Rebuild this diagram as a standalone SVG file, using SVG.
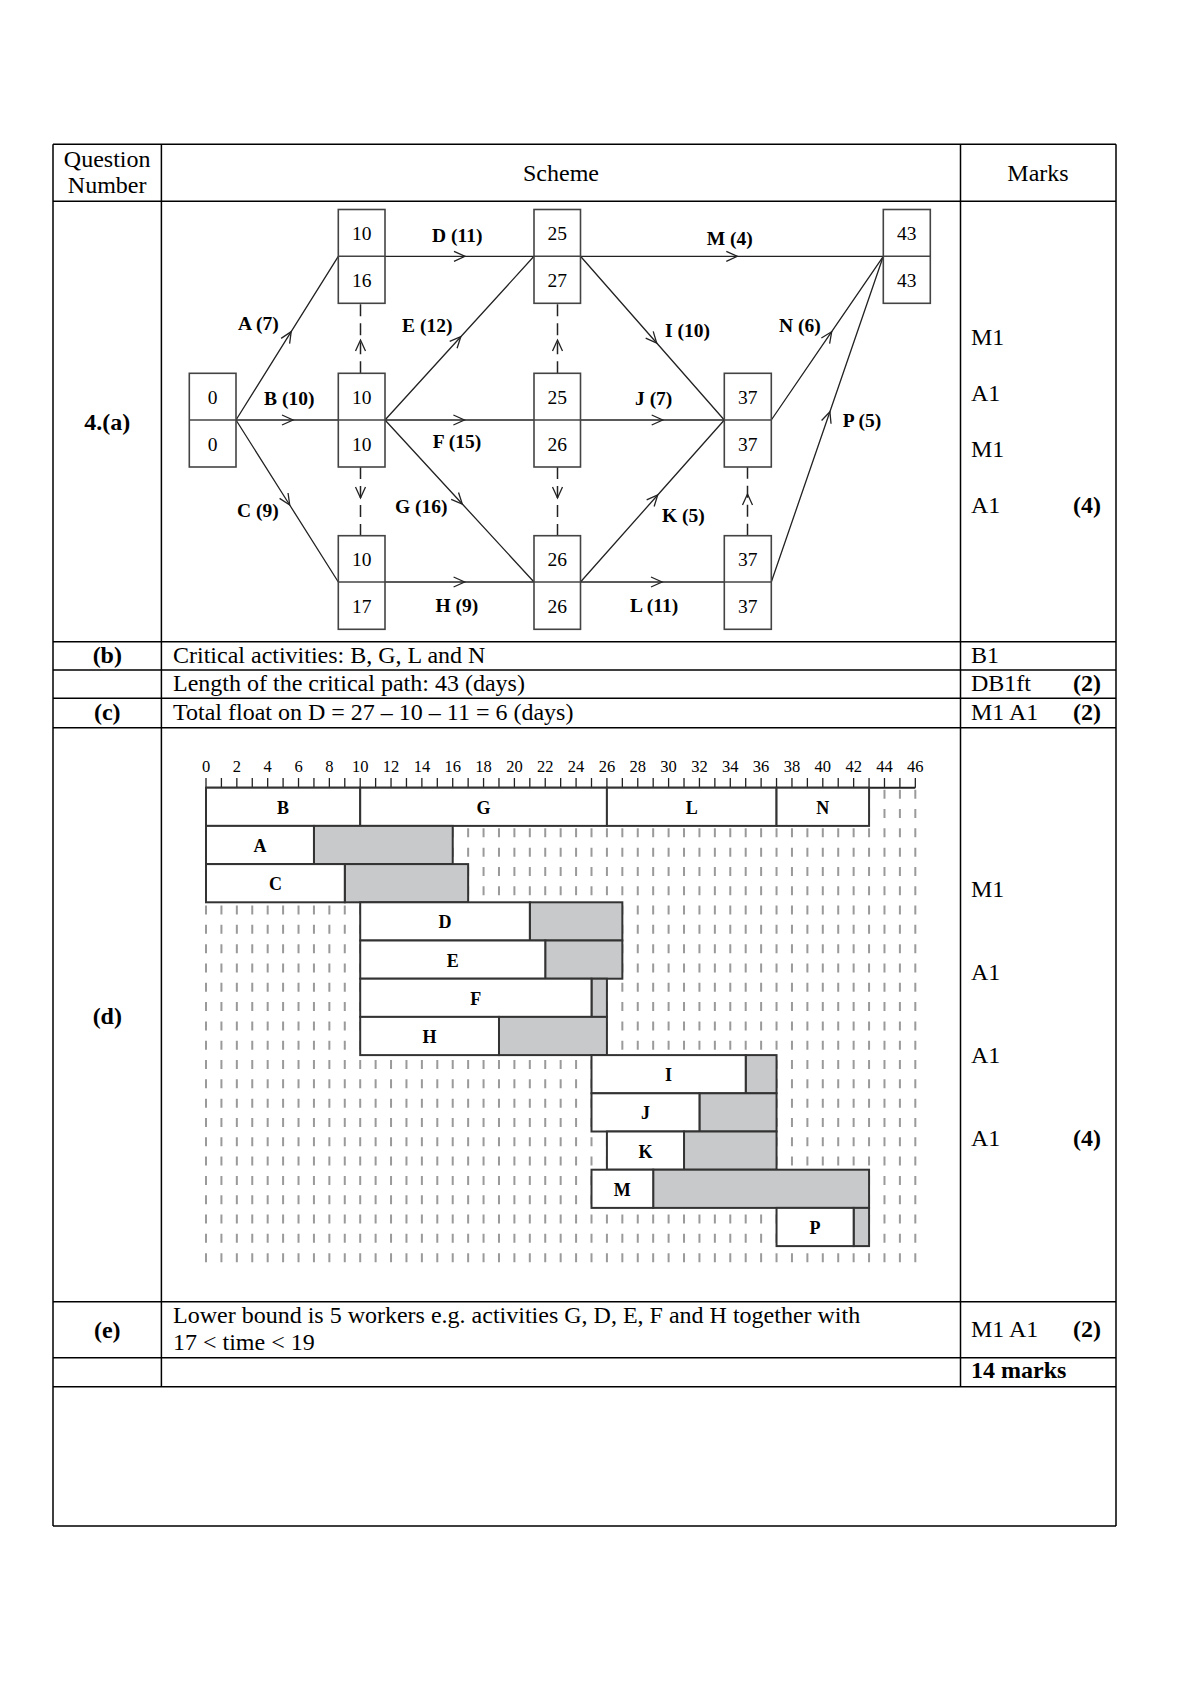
<svg xmlns="http://www.w3.org/2000/svg" width="1190" height="1683" viewBox="0 0 1190 1683">
<style>
text{font-family:"Liberation Serif","Times New Roman",serif;fill:#000}
.t{font-size:24px}
.tb{font-size:24px;font-weight:bold}
.c{text-anchor:middle}
.e{text-anchor:end}
.tl{stroke:#000;stroke-width:1.5;fill:none}
.box{fill:#fff;stroke:#444;stroke-width:1.6}
.num{font-size:19.5px;text-anchor:middle}
.lab{font-size:19.5px;font-weight:bold}
.edge{fill:none;stroke:#222;stroke-width:1.3;marker-mid:url(#arr)}
.dum{fill:none;stroke:#222;stroke-width:1.5;stroke-dasharray:12 7;marker-mid:url(#arr)}
.grid{stroke:#9a9a9a;stroke-width:2;stroke-dasharray:9 10.31}
.bw{fill:#fff;stroke:#333;stroke-width:2}
.bg{fill:#c8c9cb;stroke:#333;stroke-width:2}
.gl{font-size:18px;font-weight:bold;text-anchor:middle}
.ax{font-size:16.5px;text-anchor:middle}
</style>
<defs>
<marker id="arr" markerUnits="userSpaceOnUse" orient="auto" overflow="visible" markerWidth="12" markerHeight="12">
<path d="M-11,-5 L0,0 L-11,5" fill="none" stroke="#222" stroke-width="1.3"/>
</marker>
</defs>

<g id="table">
<path class="tl" d="M53,144.3H1116M53,201.3H1116M53,641.7H1116M53,670H1116M53,698.3H1116M53,727.7H1116M53,1301.7H1116M53,1357.7H1116M53,1386.7H1116M53,1526H1116"/>
<path class="tl" d="M53,144.3V1526M1116,144.3V1526M161.4,144.3V1386.7M960.5,144.3V1386.7"/>
</g>

<g id="header">
<text class="t c" x="107.2" y="167">Question</text>
<text class="t c" x="107.2" y="193">Number</text>
<text class="t c" x="561" y="181">Scheme</text>
<text class="t c" x="1038" y="181">Marks</text>
</g>

<g id="part-a-labels">
<text class="tb c" x="107.3" y="430">4.(a)</text>
<text class="t" x="971" y="345">M1</text>
<text class="t" x="971" y="401">A1</text>
<text class="t" x="971" y="457">M1</text>
<text class="t" x="971" y="512.5">A1</text>
<text class="tb e" x="1101" y="512.5">(4)</text>
</g>

<g id="connectors">
<path class="edge" d="M236,420 L291.2,331.7 L338.3,256.3"/>
<path class="edge" d="M236,420 L293,420 L338.3,420"/>
<path class="edge" d="M236,420 L289.7,505 L338.3,582"/>
<path class="edge" d="M385,256.3 L465,256.3 L534,256.3"/>
<path class="edge" d="M385,420 L460.8,336.7 L534,256.3"/>
<path class="edge" d="M385,420 L464.4,420 L534,420"/>
<path class="edge" d="M385,420 L462.3,504 L534,582"/>
<path class="edge" d="M385,582 L464.6,582 L534,582"/>
<path class="edge" d="M580.5,256.3 L656.7,343 L724.3,420"/>
<path class="edge" d="M580.5,420 L662.7,420 L724.3,420"/>
<path class="edge" d="M580.5,582 L657.7,495 L724.3,420"/>
<path class="edge" d="M580.5,582 L662,582 L724.3,582"/>
<path class="edge" d="M580.5,256.3 L737.3,256.3 L883.3,256.3"/>
<path class="edge" d="M771.3,420 L831.7,331.7 L883.3,256.3"/>
<path class="edge" d="M771.3,582 L829.9,411.7 L883.3,256.3"/>
<path class="dum" d="M360.5,373.3 L360.5,340 L360.5,303.3"/>
<path class="dum" d="M360.5,467 L360.5,498 L360.5,535.7"/>
<path class="dum" d="M557.5,373.3 L557.5,340 L557.5,303.3"/>
<path class="dum" d="M557.5,467 L557.5,498 L557.5,535.7"/>
<path class="dum" d="M747.5,535.7 L747.5,494 L747.5,467"/>
<text class="lab" x="238" y="330">A (7)</text>
<text class="lab" x="264" y="405">B (10)</text>
<text class="lab" x="237" y="516.7">C (9)</text>
<text class="lab" x="432" y="242">D (11)</text>
<text class="lab" x="402" y="331.7">E (12)</text>
<text class="lab" x="432.7" y="448">F (15)</text>
<text class="lab" x="395" y="512.7">G (16)</text>
<text class="lab" x="435.5" y="611.7">H (9)</text>
<text class="lab" x="665" y="336.7">I (10)</text>
<text class="lab" x="635" y="405">J (7)</text>
<text class="lab" x="662" y="521.7">K (5)</text>
<text class="lab" x="630" y="611.7">L (11)</text>
<text class="lab" x="706.7" y="245">M (4)</text>
<text class="lab" x="779" y="331.7">N (6)</text>
<text class="lab" x="842.7" y="427.3">P (5)</text>
</g>

<g id="node-0"><rect class="box" x="189.3" y="373.3" width="46.7" height="93.7"/><line class="box" x1="189.3" y1="420" x2="236" y2="420"/><text class="num" x="212.7" y="403.5">0</text><text class="num" x="212.7" y="450.5">0</text></g>
<g id="node-1"><rect class="box" x="338.3" y="209.5" width="46.7" height="93.8"/><line class="box" x1="338.3" y1="256.3" x2="385" y2="256.3"/><text class="num" x="361.7" y="240">10</text><text class="num" x="361.7" y="286.8">16</text></g>
<g id="node-2"><rect class="box" x="338.3" y="373.3" width="46.7" height="93.7"/><line class="box" x1="338.3" y1="420" x2="385" y2="420"/><text class="num" x="361.7" y="403.5">10</text><text class="num" x="361.7" y="450.5">10</text></g>
<g id="node-3"><rect class="box" x="338.3" y="535.7" width="46.7" height="93.6"/><line class="box" x1="338.3" y1="582" x2="385" y2="582"/><text class="num" x="361.7" y="566">10</text><text class="num" x="361.7" y="613">17</text></g>
<g id="node-4"><rect class="box" x="534" y="209.5" width="46.5" height="93.8"/><line class="box" x1="534" y1="256.3" x2="580.5" y2="256.3"/><text class="num" x="557.3" y="240">25</text><text class="num" x="557.3" y="286.8">27</text></g>
<g id="node-5"><rect class="box" x="534" y="373.3" width="46.5" height="93.7"/><line class="box" x1="534" y1="420" x2="580.5" y2="420"/><text class="num" x="557.3" y="403.5">25</text><text class="num" x="557.3" y="450.5">26</text></g>
<g id="node-6"><rect class="box" x="534" y="535.7" width="46.5" height="93.6"/><line class="box" x1="534" y1="582" x2="580.5" y2="582"/><text class="num" x="557.3" y="566">26</text><text class="num" x="557.3" y="613">26</text></g>
<g id="node-7"><rect class="box" x="724.3" y="373.3" width="47" height="93.7"/><line class="box" x1="724.3" y1="420" x2="771.3" y2="420"/><text class="num" x="747.8" y="403.5">37</text><text class="num" x="747.8" y="450.5">37</text></g>
<g id="node-8"><rect class="box" x="724.3" y="535.7" width="47" height="93.6"/><line class="box" x1="724.3" y1="582" x2="771.3" y2="582"/><text class="num" x="747.8" y="566">37</text><text class="num" x="747.8" y="613">37</text></g>
<g id="node-9"><rect class="box" x="883.3" y="209.5" width="47" height="93.8"/><line class="box" x1="883.3" y1="256.3" x2="930.3" y2="256.3"/><text class="num" x="906.8" y="240">43</text><text class="num" x="906.8" y="286.8">43</text></g>

<g id="parts-bc">
<text class="tb c" x="107.3" y="663">(b)</text>
<text class="t" x="173" y="663">Critical activities: B, G, L and N</text>
<text class="t" x="971" y="663">B1</text>
<text class="t" x="173" y="691.3">Length of the critical path: 43 (days)</text>
<text class="t" x="971" y="691.3">DB1ft</text>
<text class="tb e" x="1101" y="691.3">(2)</text>
<text class="tb c" x="107.3" y="720.3">(c)</text>
<text class="t" x="173" y="720.3">Total float on D = 27 – 10 – 11 = 6 (days)</text>
<text class="t" x="971" y="720.3">M1 A1</text>
<text class="tb e" x="1101" y="720.3">(2)</text>
</g>

<g id="part-d">
<text class="tb c" x="107.3" y="1024">(d)</text>
<text class="t" x="971" y="897">M1</text>
<text class="t" x="971" y="980">A1</text>
<text class="t" x="971" y="1063">A1</text>
<text class="t" x="971" y="1146">A1</text>
<text class="tb e" x="1101" y="1146">(4)</text>
</g>

<g id="gantt-grid">
<path class="grid" d="M206,789.7V1264M221.42,789.7V1264M236.84,789.7V1264M252.26,789.7V1264M267.68,789.7V1264M283.1,789.7V1264M298.52,789.7V1264M313.94,789.7V1264M329.36,789.7V1264M344.78,789.7V1264M360.2,789.7V1264M375.62,789.7V1264M391.04,789.7V1264M406.46,789.7V1264M421.88,789.7V1264M437.3,789.7V1264M452.72,789.7V1264M468.14,789.7V1264M483.56,789.7V1264M498.98,789.7V1264M514.4,789.7V1264M529.82,789.7V1264M545.24,789.7V1264M560.66,789.7V1264M576.08,789.7V1264M591.5,789.7V1264M606.92,789.7V1264M622.34,789.7V1264M637.76,789.7V1264M653.18,789.7V1264M668.6,789.7V1264M684.02,789.7V1264M699.44,789.7V1264M714.86,789.7V1264M730.28,789.7V1264M745.7,789.7V1264M761.12,789.7V1264M776.54,789.7V1264M791.96,789.7V1264M807.38,789.7V1264M822.8,789.7V1264M838.22,789.7V1264M853.64,789.7V1264M869.06,789.7V1264M884.48,789.7V1264M899.9,789.7V1264M915.32,789.7V1264"/>
</g>

<g id="gantt-axis">
<path d="M206,787.7H915.32" stroke="#222" stroke-width="2"/>
<path d="M206,778V787.7M221.42,778V787.7M236.84,778V787.7M252.26,778V787.7M267.68,778V787.7M283.1,778V787.7M298.52,778V787.7M313.94,778V787.7M329.36,778V787.7M344.78,778V787.7M360.2,778V787.7M375.62,778V787.7M391.04,778V787.7M406.46,778V787.7M421.88,778V787.7M437.3,778V787.7M452.72,778V787.7M468.14,778V787.7M483.56,778V787.7M498.98,778V787.7M514.4,778V787.7M529.82,778V787.7M545.24,778V787.7M560.66,778V787.7M576.08,778V787.7M591.5,778V787.7M606.92,778V787.7M622.34,778V787.7M637.76,778V787.7M653.18,778V787.7M668.6,778V787.7M684.02,778V787.7M699.44,778V787.7M714.86,778V787.7M730.28,778V787.7M745.7,778V787.7M761.12,778V787.7M776.54,778V787.7M791.96,778V787.7M807.38,778V787.7M822.8,778V787.7M838.22,778V787.7M853.64,778V787.7M869.06,778V787.7M884.48,778V787.7M899.9,778V787.7M915.32,778V787.7" stroke="#222" stroke-width="1.3"/>
<text class="ax" x="206" y="772">0</text>
<text class="ax" x="236.84" y="772">2</text>
<text class="ax" x="267.68" y="772">4</text>
<text class="ax" x="298.52" y="772">6</text>
<text class="ax" x="329.36" y="772">8</text>
<text class="ax" x="360.2" y="772">10</text>
<text class="ax" x="391.04" y="772">12</text>
<text class="ax" x="421.88" y="772">14</text>
<text class="ax" x="452.72" y="772">16</text>
<text class="ax" x="483.56" y="772">18</text>
<text class="ax" x="514.4" y="772">20</text>
<text class="ax" x="545.24" y="772">22</text>
<text class="ax" x="576.08" y="772">24</text>
<text class="ax" x="606.92" y="772">26</text>
<text class="ax" x="637.76" y="772">28</text>
<text class="ax" x="668.6" y="772">30</text>
<text class="ax" x="699.44" y="772">32</text>
<text class="ax" x="730.28" y="772">34</text>
<text class="ax" x="761.12" y="772">36</text>
<text class="ax" x="791.96" y="772">38</text>
<text class="ax" x="822.8" y="772">40</text>
<text class="ax" x="853.64" y="772">42</text>
<text class="ax" x="884.48" y="772">44</text>
<text class="ax" x="915.32" y="772">46</text>
</g>

<g id="gantt-bars">
<g id="bar-B"><rect class="bw" x="206" y="787.7" width="154.2" height="38.2"/><text class="gl" x="283.1" y="813.7">B</text></g>
<g id="bar-G"><rect class="bw" x="360.2" y="787.7" width="246.72" height="38.2"/><text class="gl" x="483.56" y="813.7">G</text></g>
<g id="bar-L"><rect class="bw" x="606.92" y="787.7" width="169.62" height="38.2"/><text class="gl" x="691.73" y="813.7">L</text></g>
<g id="bar-N"><rect class="bw" x="776.54" y="787.7" width="92.52" height="38.2"/><text class="gl" x="822.8" y="813.7">N</text></g>
<g id="bar-A"><rect class="bg" x="313.94" y="825.9" width="138.78" height="38.2"/><rect class="bw" x="206" y="825.9" width="107.94" height="38.2"/><text class="gl" x="259.97" y="851.9">A</text></g>
<g id="bar-C"><rect class="bg" x="344.78" y="864.1" width="123.36" height="38.2"/><rect class="bw" x="206" y="864.1" width="138.78" height="38.2"/><text class="gl" x="275.39" y="890.1">C</text></g>
<g id="bar-D"><rect class="bg" x="529.82" y="902.3" width="92.52" height="38.2"/><rect class="bw" x="360.2" y="902.3" width="169.62" height="38.2"/><text class="gl" x="445.01" y="928.3">D</text></g>
<g id="bar-E"><rect class="bg" x="545.24" y="940.5" width="77.1" height="38.2"/><rect class="bw" x="360.2" y="940.5" width="185.04" height="38.2"/><text class="gl" x="452.72" y="966.5">E</text></g>
<g id="bar-F"><rect class="bg" x="591.5" y="978.7" width="15.42" height="38.2"/><rect class="bw" x="360.2" y="978.7" width="231.3" height="38.2"/><text class="gl" x="475.85" y="1004.7">F</text></g>
<g id="bar-H"><rect class="bg" x="498.98" y="1016.9" width="107.94" height="38.2"/><rect class="bw" x="360.2" y="1016.9" width="138.78" height="38.2"/><text class="gl" x="429.59" y="1042.9">H</text></g>
<g id="bar-I"><rect class="bg" x="745.7" y="1055.1" width="30.84" height="38.2"/><rect class="bw" x="591.5" y="1055.1" width="154.2" height="38.2"/><text class="gl" x="668.6" y="1081.1">I</text></g>
<g id="bar-J"><rect class="bg" x="699.44" y="1093.3" width="77.1" height="38.2"/><rect class="bw" x="591.5" y="1093.3" width="107.94" height="38.2"/><text class="gl" x="645.47" y="1119.3">J</text></g>
<g id="bar-K"><rect class="bg" x="684.02" y="1131.5" width="92.52" height="38.2"/><rect class="bw" x="606.92" y="1131.5" width="77.1" height="38.2"/><text class="gl" x="645.47" y="1157.5">K</text></g>
<g id="bar-M"><rect class="bg" x="653.18" y="1169.7" width="215.88" height="38.2"/><rect class="bw" x="591.5" y="1169.7" width="61.68" height="38.2"/><text class="gl" x="622.34" y="1195.7">M</text></g>
<g id="bar-P"><rect class="bg" x="853.64" y="1207.9" width="15.42" height="38.2"/><rect class="bw" x="776.54" y="1207.9" width="77.1" height="38.2"/><text class="gl" x="815.09" y="1233.9">P</text></g>
</g>

<g id="part-e">
<text class="tb c" x="107.3" y="1338">(e)</text>
<text class="t" x="173" y="1323">Lower bound is 5 workers e.g. activities G, D, E, F and H together with</text>
<text class="t" x="173" y="1350">17 &lt; time &lt; 19</text>
<text class="t" x="971" y="1337">M1 A1</text>
<text class="tb e" x="1101" y="1337">(2)</text>
<text class="tb" x="971" y="1378">14 marks</text>
</g>
</svg>
